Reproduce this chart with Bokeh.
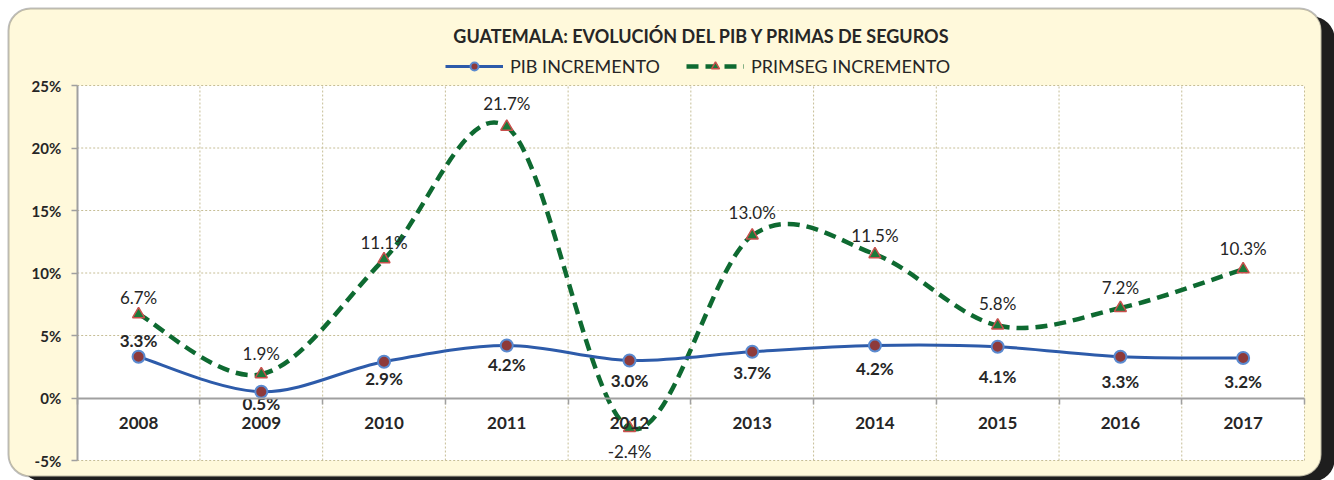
import numpy as np
from bokeh.plotting import figure
from bokeh.models import (Range1d, LinearAxis, FixedTicker, BoxAnnotation, Label,
                          Legend, LegendItem, ColumnDataSource, CustomJSTickFormatter)
from bokeh.core.properties import value
from bokeh.embed import file_html
from bokeh.resources import INLINE

# ---------------- data ----------------
years = ["2008", "2009", "2010", "2011", "2012", "2013", "2014", "2015", "2016", "2017"]
pib = [3.3, 0.5, 2.9, 4.2, 3.0, 3.7, 4.2, 4.1, 3.3, 3.2]
primseg = [6.7, 1.9, 11.1, 21.7, -2.4, 13.0, 11.5, 5.8, 7.2, 10.3]
y_ticks = [-5, 0, 5, 10, 15, 20, 25]
title_text = "GUATEMALA:  EVOLUCIÓN  DEL PIB Y PRIMAS  DE SEGUROS"
pib_name = "PIB INCREMENTO"
prim_name = "PRIMSEG INCREMENTO"

# label offsets (screen px, style only)
pib_dy = [-16, 12, 17, 19, 20, 21, 23, 30, 25, 23]
prim_dy = [-17, -21, -17, -23, 23, -23, -19, -22, -21, -21]

# ---------------- layout (canvas = frame) ----------------
W, H = 1334, 480
n = len(years)
x_lo, x_hi = -0.5, n - 0.5
y_lo, y_hi = y_ticks[0], y_ticks[-1]
PL, PR, PT, PB = 76.7, 1304.0, 85.0, 460.0   # plot-area pixels on canvas
kx = (PR - PL) / (x_hi - x_lo)
ky = (PB - PT) / (y_hi - y_lo)
x_start = x_lo - PL / kx
x_end = x_start + W / kx
y_end = y_hi + PT / ky
y_start = y_end - H / ky


def px_x(px):
    return x_start + px / kx


def px_y(py):
    return y_end - py / ky


p = figure(width=W, height=H, x_range=Range1d(x_start, x_end), y_range=Range1d(y_start, y_end),
           output_backend="svg", toolbar_location=None, min_border=0,
           x_axis_type=None, y_axis_type=None, outline_line_color=None,
           background_fill_color="white", border_fill_color="white")

FONT = "Lato"
TXT = "#262626"

# outer rounded box with shadow
shadow = BoxAnnotation(left=px_x(20), right=px_x(1334), top=px_y(16), bottom=px_y(481),
                       fill_color="#1e1e1e", fill_alpha=1, line_color=None,
                       border_radius=22, level="underlay")
box = BoxAnnotation(left=px_x(8), right=px_x(1321), top=px_y(8), bottom=px_y(476),
                    fill_color="#FFF9DB", fill_alpha=1, line_color="#262626", line_width=2,
                    border_radius=22, level="underlay")
p.add_layout(shadow)
p.add_layout(box)

# plot area
p.quad(left=[x_lo], right=[x_hi], bottom=[y_lo], top=[y_hi], fill_color="white", line_color=None)

# dotted grid
GRID = "#C6BE96"
hy = [t for t in y_ticks if t != 0]
p.segment(x0=[x_lo] * len(hy), x1=[x_hi] * len(hy), y0=hy, y1=hy,
          line_color=GRID, line_width=1, line_dash="2 2")
bx = [i + 0.5 for i in range(n)]
p.segment(x0=bx, x1=bx, y0=[y_lo] * n, y1=[y_hi] * n,
          line_color=GRID, line_width=1, line_dash="2 2")

# axes
AX = "#A0A0A0"
yaxis = LinearAxis(fixed_location=x_lo, bounds=(y_lo, y_hi), ticker=FixedTicker(ticks=y_ticks),
                   formatter=CustomJSTickFormatter(code="return tick.toFixed(0) + '%'"),
                   axis_line_color=AX, axis_line_width=2,
                   major_tick_line_color=AX, major_tick_line_width=1.5,
                   major_tick_out=6, major_tick_in=0, minor_tick_line_color=None,
                   major_label_standoff=10, major_label_text_font=FONT,
                   major_label_text_font_style="bold", major_label_text_font_size="15px",
                   major_label_text_color=TXT)
p.add_layout(yaxis, "left")

xticks_axis = LinearAxis(fixed_location=0, bounds=(x_lo, x_hi),
                         ticker=FixedTicker(ticks=[x_lo + i for i in range(n + 1)]),
                         formatter=CustomJSTickFormatter(code="return ''"),
                         axis_line_color=AX, axis_line_width=2,
                         major_tick_line_color=AX, major_tick_line_width=1.5,
                         major_tick_out=6, major_tick_in=0, minor_tick_line_color=None,
                         major_label_text_font_size="1px")
p.add_layout(xticks_axis, "below")

xlabel_axis = LinearAxis(fixed_location=0, bounds=(x_lo, x_hi),
                         ticker=FixedTicker(ticks=list(range(n))),
                         formatter=CustomJSTickFormatter(args=dict(years=years),
                                                         code="return years[Math.round(tick)] || ''"),
                         axis_line_color=None, major_tick_line_color=None,
                         minor_tick_line_color=None, major_tick_out=0, major_tick_in=0,
                         major_label_standoff=19, major_label_text_font=FONT,
                         major_label_text_font_style="bold", major_label_text_font_size="17px",
                         major_label_text_color=TXT)
p.add_layout(xlabel_axis, "below")


# smoothed curves (Excel-like Catmull-Rom Bezier from the data points)
def bezier_src(ys):
    xs = list(range(len(ys)))
    d = dict(x0=[], y0=[], x1=[], y1=[], cx0=[], cy0=[], cx1=[], cy1=[])
    m = len(ys)
    for i in range(m - 1):
        a = max(i - 1, 0)
        b = min(i + 2, m - 1)
        d["x0"].append(xs[i]); d["y0"].append(ys[i])
        d["x1"].append(xs[i + 1]); d["y1"].append(ys[i + 1])
        d["cx0"].append(xs[i] + (xs[i + 1] - xs[a]) / 6.0)
        d["cy0"].append(ys[i] + (ys[i + 1] - ys[a]) / 6.0)
        d["cx1"].append(xs[i + 1] - (xs[b] - xs[i]) / 6.0)
        d["cy1"].append(ys[i + 1] - (ys[b] - ys[i]) / 6.0)
    return ColumnDataSource(d)


BLUE = "#2D5BAA"
GREEN = "#0E6A31"
p.bezier(x0="x0", y0="y0", x1="x1", y1="y1", cx0="cx0", cy0="cy0", cx1="cx1", cy1="cy1",
         source=bezier_src(primseg), line_color=GREEN, line_width=4.5, line_dash="12 7")
p.bezier(x0="x0", y0="y0", x1="x1", y1="y1", cx0="cx0", cy0="cy0", cx1="cx1", cy1="cy1",
         source=bezier_src(pib), line_color=BLUE, line_width=3)

xs = list(range(n))
p.scatter(xs, primseg, marker="triangle", size=12, fill_color="#1B7A3A",
          line_color="#C8504D", line_width=1.5)
p.scatter(xs, pib, marker="circle", size=12, fill_color="#8E3A3A",
          line_color="#5A8AD0", line_width=2)

# data labels
pib_src = ColumnDataSource(dict(x=xs, y=pib, t=[f"{v:.1f}%" for v in pib], dy=pib_dy))
prim_src = ColumnDataSource(dict(x=xs, y=primseg, t=[f"{v:.1f}%" for v in primseg], dy=prim_dy))
p.text(x="x", y="y", text="t", y_offset="dy", source=prim_src, text_align="center",
       text_baseline="middle", text_font=value(FONT), text_font_size="17px",
       text_color=TXT)
p.text(x="x", y="y", text="t", y_offset="dy", source=pib_src, text_align="center",
       text_baseline="middle", text_font=value(FONT), text_font_style="bold",
       text_font_size="17px", text_color=TXT)

# title
p.add_layout(Label(x=px_x(708), y=px_y(35), text=title_text, text_align="center",
                   text_baseline="middle", text_font=FONT, text_font_style="bold",
                   text_font_size="18px", text_color=TXT))

# legend (dummy renderers for glyphs)
nan = [float("nan")]
lb = p.line(nan, nan, line_color=BLUE, line_width=3)
mb = p.scatter(nan, nan, marker="circle", size=11, fill_color="#8E3A3A", line_color="#5A8AD0", line_width=2)
lg = p.line(nan, nan, line_color=GREEN, line_width=4.5, line_dash="12 7")
mg = p.scatter(nan, nan, marker="triangle", size=12, fill_color="#1B7A3A", line_color="#C8504D", line_width=1.5)
legend = Legend(items=[LegendItem(label=pib_name, renderers=[lb, mb]),
                       LegendItem(label=prim_name, renderers=[lg, mg])],
                orientation="horizontal", location=(445, H - 49 - 28),
                padding=0, margin=0, spacing=26, glyph_width=58, glyph_height=20,
                label_standoff=7, label_text_font=FONT, label_text_font_size="18px",
                label_text_color=TXT, border_line_color=None, background_fill_alpha=0)
p.add_layout(legend)

open("out.html", "w").write(file_html(p, INLINE))
